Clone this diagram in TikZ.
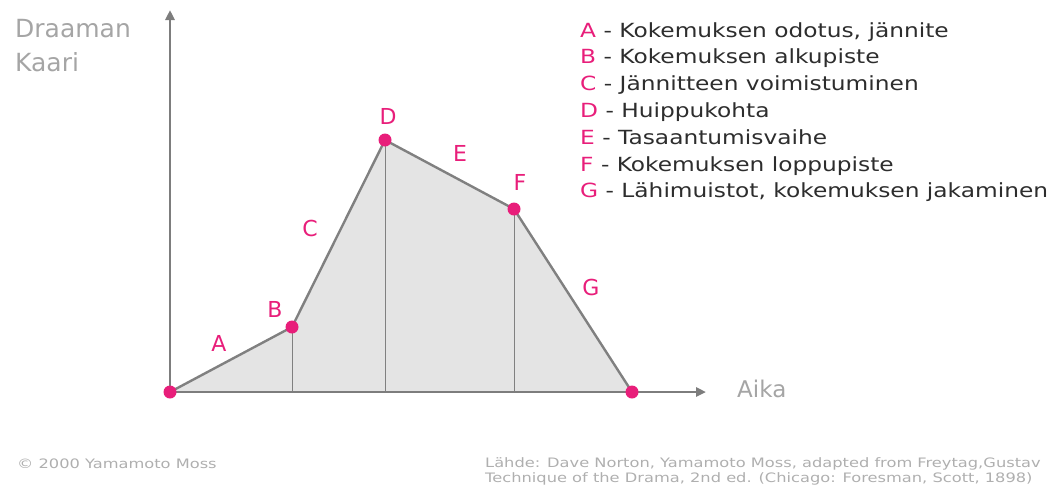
\documentclass[tikz,border=0pt]{standalone}
\usepackage{graphicx}
\usepackage{fontspec}
\setmainfont{DejaVu Sans}
\usetikzlibrary{arrows.meta}
\definecolor{pinkc}{RGB}{232,30,122}
\definecolor{axisc}{RGB}{125,125,125}
\definecolor{linec}{RGB}{128,128,128}
\definecolor{fillc}{RGB}{228,228,228}
\definecolor{titlec}{RGB}{165,165,165}
\definecolor{notec}{RGB}{175,175,175}
\definecolor{legc}{RGB}{45,45,45}
\newcommand{\legx}[1]{\scalebox{1.195}[1]{#1}}
\newcommand{\notex}[1]{\scalebox{1.25}[1]{#1}}
\tikzset{
  dot/.style={circle,fill=pinkc,inner sep=0pt,minimum size=13pt},
  plabel/.style={text=pinkc,font=\fontsize{22}{22}\selectfont,inner sep=0pt},
  legline/.style={anchor=base west,font=\fontsize{19.5}{19.5}\selectfont,text=legc,inner sep=0pt},
  axis/.style={draw=axisc,line width=2.8pt,-{Triangle[length=10pt,width=9pt]}},
  curve/.style={draw=linec,line width=2.4pt,line join=round},
  divider/.style={draw=linec,line width=0.9pt},
  title/.style={anchor=base west,text=titlec,inner sep=0pt},
  note/.style={anchor=base west,font=\fontsize{13}{13}\selectfont,text=notec,inner sep=0pt},
}
\begin{document}
\begin{tikzpicture}[x=1pt,y=-1pt]
\useasboundingbox (0,0) rectangle (1061,491);
\coordinate (O) at (170,392);
\coordinate (Bp) at (292,327);
\coordinate (Dp) at (385,140);
\coordinate (Fp) at (514,209);
\coordinate (Ep) at (632,392);
\coordinate (Btm) at (292,392);
\coordinate (Dtm) at (385,392);
\coordinate (Ftm) at (514,392);
\coordinate (Ytop) at (170,10);
\coordinate (Xend) at (706,392);
% filled area
\fill[fillc] (O) -- (Bp) -- (Dp) -- (Fp) -- (Ep) -- cycle;
\draw[divider] (Bp) -- (Btm);
\draw[divider] (Dp) -- (Dtm);
\draw[divider] (Fp) -- (Ftm);
\draw[curve] (O) -- (Bp) -- (Dp) -- (Fp) -- (Ep);
% axes
\draw[axis] (O) -- (Ytop);
\draw[axis] (O) -- (Xend);
% dots
\node[dot] (n0) at (O) {};
\node[dot] (nB) at (Bp) {};
\node[dot] (nD) at (Dp) {};
\node[dot] (nF) at (Fp) {};
\node[dot] (nE) at (Ep) {};
% point labels
\node[plabel] (lA) at (219,343) {A};
\node[plabel] (lB) at (275,309) {B};
\node[plabel] (lC) at (310,228) {C};
\node[plabel] (lD) at (388,116) {D};
\node[plabel] (lE) at (460,153) {E};
\node[plabel] (lF) at (520,182) {F};
\node[plabel] (lG) at (591,287) {G};
% axis titles
\node[title,font=\fontsize{25}{25}\selectfont] (yt) at (15,37) {Draaman};
\node[title,font=\fontsize{25}{25}\selectfont] (yt2) at (15,71) {Kaari};
\node[title,font=\fontsize{23}{23}\selectfont] (xt) at (737,397) {Aika};
% legend
\node[legline] (g1) at (580,37) {\legx{\textcolor{pinkc}{A} - Kokemuksen odotus, jännite}};
\node[legline] (g2) at (580,63.8) {\legx{\textcolor{pinkc}{B} - Kokemuksen alkupiste}};
\node[legline] (g3) at (580,90.6) {\legx{\textcolor{pinkc}{C} - Jännitteen voimistuminen}};
\node[legline] (g4) at (580,117.4) {\legx{\textcolor{pinkc}{D} - Huippukohta}};
\node[legline] (g5) at (580,144.2) {\legx{\textcolor{pinkc}{E} - Tasaantumisvaihe}};
\node[legline] (g6) at (580,171) {\legx{\textcolor{pinkc}{F} - Kokemuksen loppupiste}};
\node[legline] (g7) at (580,197.8) {\legx{\textcolor{pinkc}{G} - Lähimuistot, kokemuksen jakaminen}};
% notes
\node[note] (c1) at (17,468) {\notex{© 2000 Yamamoto Moss}};
\node[note] (c2) at (485,467) {\notex{Lähde: Dave Norton, Yamamoto Moss, adapted from Freytag,Gustav}};
\node[note] (c3) at (485,482) {\notex{Technique of the Drama, 2nd ed. (Chicago: Foresman, Scott, 1898)}};
\end{tikzpicture}
\end{document}
